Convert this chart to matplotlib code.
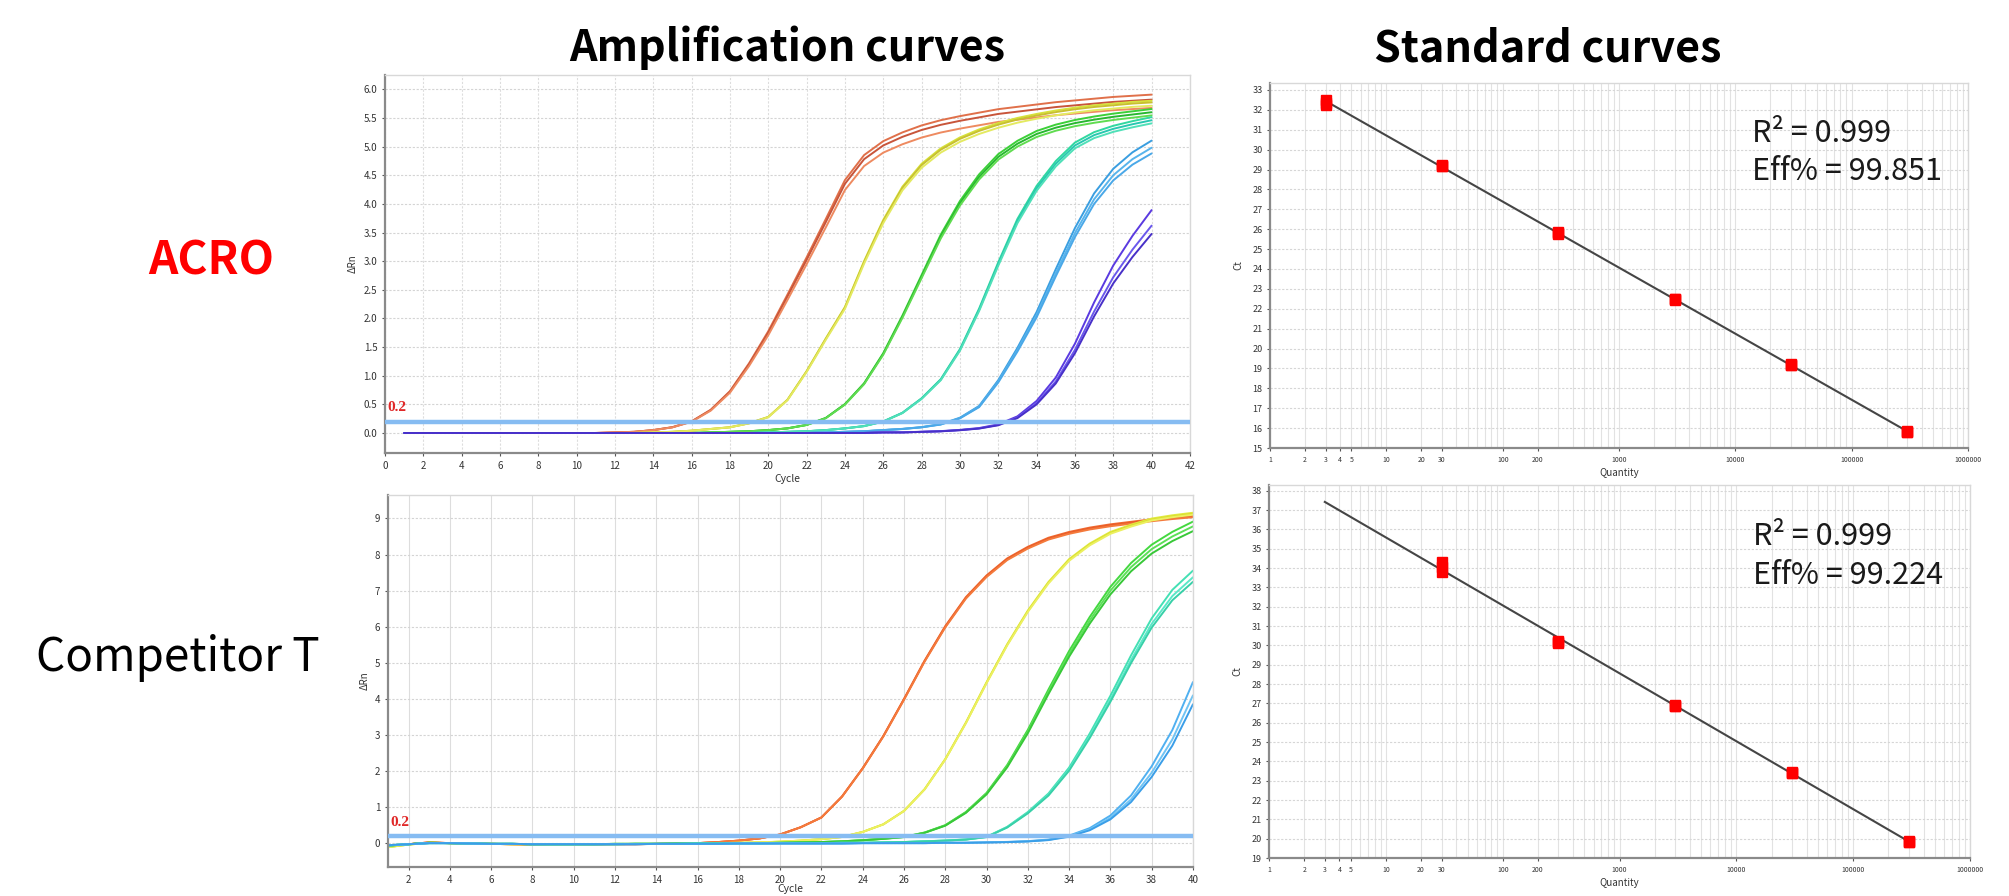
import matplotlib
matplotlib.use('Agg')
import matplotlib.pyplot as plt
import matplotlib.transforms as mtransforms
from matplotlib.ticker import FixedLocator, LogLocator, NullFormatter
import numpy as np

plt.rcParams['font.family'] = ['Noto Sans CJK SC', 'DejaVu Sans']

cycles = list(range(1, 41))

# ACRO amplification curves (delta Rn per cycle)
acro_1 = [0, 0, 0, 0, 0, 0, 0, 0, 0, 0, 0,
          0.01, 0.02, 0.05, 0.1, 0.2, 0.4, 0.72, 1.2, 1.75, 2.38, 3.02, 3.68, 4.35, 4.78,
          5.02, 5.17, 5.29, 5.38, 5.45, 5.51, 5.57, 5.61, 5.65, 5.69, 5.72, 5.75, 5.78, 5.8, 5.82]
acro_2 = [0, 0, 0, 0, 0, 0, 0, 0, 0, 0, 0, 0, 0,
          0.01, 0.02, 0.04, 0.07, 0.1, 0.17, 0.28, 0.58, 1.08, 1.65, 2.2, 3.0, 3.72, 4.3,
          4.7, 4.97, 5.16, 5.3, 5.41, 5.5, 5.57, 5.63, 5.68, 5.72, 5.75, 5.78, 5.8]
acro_3 = [0, 0, 0, 0, 0, 0, 0, 0, 0, 0, 0, 0, 0, 0, 0, 0,
          0.01, 0.02, 0.03, 0.05, 0.08, 0.14, 0.26, 0.5, 0.86, 1.38, 2.03, 2.73, 3.43, 4.01,
          4.47, 4.82, 5.05, 5.22, 5.33, 5.41, 5.47, 5.52, 5.56, 5.6]
acro_4 = [0, 0, 0, 0, 0, 0, 0, 0, 0, 0, 0, 0, 0, 0, 0, 0, 0, 0, 0,
          0.01, 0.02, 0.03, 0.05, 0.08, 0.12, 0.2, 0.35, 0.6, 0.93, 1.45, 2.15, 2.95, 3.7,
          4.27, 4.7, 5.02, 5.2, 5.31, 5.39, 5.46]
acro_5 = [0, 0, 0, 0, 0, 0, 0, 0, 0, 0, 0, 0, 0, 0, 0, 0, 0, 0, 0, 0, 0, 0,
          0.01, 0.02, 0.03, 0.05, 0.07, 0.1, 0.15, 0.26, 0.46, 0.9, 1.45, 2.06, 2.79, 3.49,
          4.08, 4.5, 4.78, 4.98]
acro_6 = [0, 0, 0, 0, 0, 0, 0, 0, 0, 0, 0, 0, 0, 0, 0, 0, 0, 0, 0, 0, 0, 0, 0, 0, 0,
          0.01, 0.01, 0.02, 0.03, 0.05, 0.08, 0.14, 0.27, 0.52, 0.9, 1.45, 2.12, 2.72, 3.2, 3.62]
# replicate spread (ratio to the middle replicate)
acro_reps = [[1.015, 1.0, 0.975], [1.0, 0.995, 0.985], [1.01, 1.0, 0.99],
             [1.01, 1.0, 0.99], [1.025, 1.0, 0.98], [1.075, 1.0, 0.96]]
acro_colors = [['#e0704a', '#c8553a', '#ee8a60'], ['#d6e23a', '#c8c030', '#e4ea60'],
               ['#3cd038', '#28b830', '#60dc50'], ['#30d8a0', '#28c8b0', '#50e0b8'],
               ['#3a9ee0', '#58b4ec', '#4aa8e8'], ['#5a3ae0', '#6a58ec', '#4830c8']]

# Competitor T amplification curves
comp_1 = [-0.08, -0.02, 0.03, 0.01, 0.0, -0.01, -0.02, -0.03, -0.04, -0.04, -0.03, -0.02, -0.02,
          -0.01, 0.0, 0.01, 0.04, 0.08, 0.14, 0.25, 0.45, 0.72, 1.3, 2.08, 2.97, 3.99, 5.05,
          6.0, 6.8, 7.4, 7.87, 8.19, 8.44, 8.6, 8.72, 8.81, 8.88, 8.95, 9.01, 9.06]
comp_2 = [-0.1, -0.03, 0.02, 0.01, 0.0, -0.01, -0.02, -0.02, -0.03, -0.03, -0.02, -0.02, -0.01,
          -0.01, 0.0, 0.0, 0.01, 0.02, 0.03, 0.05, 0.08, 0.12, 0.18, 0.32, 0.53, 0.9, 1.5,
          2.33, 3.34, 4.45, 5.5, 6.43, 7.22, 7.85, 8.28, 8.6, 8.8, 8.97, 9.06, 9.13]
comp_3 = [-0.06, -0.02, 0.02, 0.01, 0.0, -0.01, -0.01, -0.02, -0.02, -0.02, -0.02, -0.01, -0.01,
          -0.01, 0.0, 0.0, 0.0, 0.01, 0.01, 0.02, 0.03, 0.04, 0.06, 0.09, 0.13, 0.18, 0.3,
          0.5, 0.86, 1.38, 2.14, 3.1, 4.2, 5.25, 6.18, 7.0, 7.65, 8.15, 8.5, 8.78]
comp_4 = [-0.05, -0.02, 0.01, 0.01, 0.0, -0.01, -0.01, -0.02, -0.02, -0.02, -0.02, -0.02, -0.01,
          -0.01, -0.01, 0.0, 0.0, 0.0, 0.0, 0.01, 0.01, 0.01, 0.02, 0.02, 0.03, 0.04, 0.06,
          0.08, 0.11, 0.18, 0.45, 0.85, 1.35, 2.05, 2.97, 3.99, 5.08, 6.08, 6.85, 7.37]
comp_5 = [-0.05, -0.02, 0.01, 0.01, 0.0, -0.01, -0.01, -0.02, -0.02, -0.02, -0.02, -0.02, -0.02,
          -0.01, -0.01, -0.01, -0.01, 0.0, 0.0, 0.0, 0.0, 0.0, 0.0, 0.01, 0.01, 0.01, 0.01,
          0.02, 0.02, 0.03, 0.04, 0.06, 0.1, 0.2, 0.39, 0.71, 1.22, 1.96, 2.88, 4.1]
comp_reps = [[1.003, 1.0, 0.997], [1.003, 1.0, 0.997], [1.015, 1.0, 0.985],
             [1.025, 1.0, 0.983], [1.09, 1.0, 0.94]]
comp_colors = [['#f06a30', '#e85a28', '#f47a3c'], ['#e2ea40', '#d8e030', '#ecf060'],
               ['#44d840', '#5ce058', '#38c838'], ['#44e0b4', '#5ae8c8', '#38d0a8'],
               ['#50b0f0', '#70c4f4', '#3a9ee8']]

threshold = 0.2

# standard curves
acro_qty = [3, 3, 3, 30, 30, 30, 300, 300, 300, 3000, 3000, 3000,
            30000, 30000, 30000, 300000, 300000, 300000]
acro_ct = [32.25, 32.35, 32.5, 29.2, 29.25, 29.2, 25.75, 25.85, 25.8, 22.45, 22.5, 22.5,
           19.15, 19.2, 19.15, 15.8, 15.85, 15.8]
comp_qty = [30, 30, 30, 300, 300, 300, 3000, 3000, 3000, 30000, 30000, 30000,
            300000, 300000, 300000]
comp_ct = [33.8, 34.05, 34.3, 30.15, 30.25, 30.2, 26.85, 26.85, 26.9, 23.4, 23.45, 23.4,
           19.85, 19.9, 19.85]

qty_ticks = [1, 2, 3, 4, 5, 10, 20, 30, 100, 200, 1000, 10000, 100000, 1000000]

fig = plt.figure(figsize=(20.09, 8.96), dpi=100)


def style_box(ax):
    for s in ['top', 'right']:
        ax.spines[s].set_color('#d8d8d8')
        ax.spines[s].set_linewidth(1)
    for s in ['left', 'bottom']:
        ax.spines[s].set_color('#8a8a8a')
        ax.spines[s].set_linewidth(1.6)
    ax.tick_params(colors='#555555', labelcolor='#333333', length=2, width=0.8)


def amp_panel(rect, curves, reps, colors, xlim, ylim, xticks, yticks, yfmt, vgrid_dotted,
              cycle_y):
    ax = fig.add_axes(rect)
    for vals, rr, cc in zip(curves, reps, colors):
        for r, c in zip(rr, cc):
            ax.plot(cycles, np.array(vals) * r, color=c, lw=1.4,
                    solid_joinstyle='round', solid_capstyle='round')
    ax.axhline(threshold, color='#86bcf2', lw=3.2, zorder=5)
    trans = mtransforms.blended_transform_factory(ax.transAxes, ax.transData)
    ax.text(0.003, threshold + 0.02 * (ylim[1] - ylim[0]), '0.2', transform=trans,
            color='#e02828', fontsize=11, fontweight='bold', family='Liberation Serif',
            va='bottom', ha='left', zorder=6)
    ax.set_xlim(xlim)
    ax.set_ylim(ylim)
    ax.set_xticks(xticks)
    ax.set_yticks(yticks)
    ax.set_yticklabels([yfmt % v for v in yticks])
    ax.tick_params(labelsize=7)
    ax.grid(axis='x', color='#dddddd', lw=0.8, ls=(0, (2, 1.5)) if vgrid_dotted else '-')
    ax.grid(axis='y', color='#d4d4d4', lw=0.8, ls=(0, (2, 1.5)))
    ax.set_xlabel('Cycle', fontsize=7.5, color='#333333', va='top')
    ax.xaxis.set_label_coords(0.5, cycle_y)
    ax.set_ylabel('ΔRn', fontsize=7, color='#333333')
    style_box(ax)
    return ax


ax1 = amp_panel([0.1916, 0.4944, 0.4007, 0.4219],
                [acro_1, acro_2, acro_3, acro_4, acro_5, acro_6], acro_reps, acro_colors,
                (0, 42), (-0.35, 6.25), list(range(0, 43, 2)),
                [i * 0.5 for i in range(13)], '%.1f', True, -0.055)
ax2 = amp_panel([0.1931, 0.0324, 0.4007, 0.4152],
                [comp_1, comp_2, comp_3, comp_4, comp_5], comp_reps, comp_colors,
                (1, 40), (-0.65, 9.65), list(range(2, 41, 2)),
                list(range(0, 10)), '%d', False, -0.045)


def std_panel(rect, qty, ct, ylim, yticks, r2, eff):
    ax = fig.add_axes(rect)
    ax.set_xscale('log')
    slope, icpt = np.polyfit(np.log10(qty), ct, 1)
    xl = np.array([3, 300000])
    ax.plot(xl, slope * np.log10(xl) + icpt, color='#454545', lw=1.5, zorder=3)
    ax.plot(qty, ct, 's', color='#ff0000', ms=7, mec='#ff0000', zorder=4)
    ax.set_xlim(1, 1000000)
    ax.set_ylim(ylim)
    ax.xaxis.set_major_locator(FixedLocator(qty_ticks))
    ax.xaxis.set_minor_locator(LogLocator(subs=np.arange(2, 10), numticks=20))
    ax.xaxis.set_minor_formatter(NullFormatter())
    ax.set_xticklabels([str(q) for q in qty_ticks])
    ax.set_yticks(yticks)
    ax.tick_params(axis='x', which='both', labelsize=5)
    ax.tick_params(axis='y', labelsize=6.5)
    ax.grid(axis='x', which='both', color='#e2e2e2', lw=0.8)
    ax.grid(axis='y', color='#d6d6d6', lw=0.8, ls=(0, (2, 1.5)))
    ax.set_xlabel('Quantity', fontsize=7, color='#333333', labelpad=3)
    ax.set_ylabel('Ct', fontsize=7, color='#333333', labelpad=6)
    style_box(ax)
    ax.tick_params(axis='x', which='minor', length=0)
    ax.text(0.69, 0.862, 'R² = ' + r2, transform=ax.transAxes, fontsize=22,
            color='#1a1a1a', va='center', ha='left')
    ax.text(0.69, 0.757, 'Eff% = ' + eff, transform=ax.transAxes, fontsize=22,
            color='#1a1a1a', va='center', ha='left')
    return ax


ax3 = std_panel([0.6322, 0.5, 0.3474, 0.4074], acro_qty, acro_ct, (15, 33.35),
                list(range(15, 34)), '0.999', '99.851')
ax4 = std_panel([0.6317, 0.0424, 0.3489, 0.4163], comp_qty, comp_ct, (19, 38.3),
                list(range(19, 39)), '0.999', '99.224')

fig.text(0.3917, 0.9464, 'Amplification curves', fontsize=31, fontweight='bold',
         ha='center', va='center', color='black')
fig.text(0.7705, 0.9464, 'Standard curves', fontsize=31, fontweight='bold',
         ha='center', va='center', color='black')
fig.text(0.105, 0.7076, 'ACRO', fontsize=33, fontweight='bold', color='#ff0000',
         ha='center', va='center')
fig.text(0.0886, 0.2656, 'Competitor T', fontsize=33, fontweight='medium', color='black',
         ha='center', va='center')

fig.savefig('out.png', dpi=100)
